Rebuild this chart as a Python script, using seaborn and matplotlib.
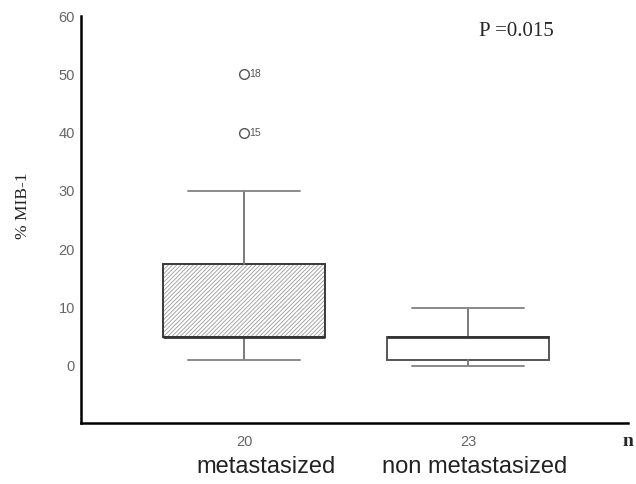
import matplotlib
matplotlib.use("Agg")
import matplotlib.pyplot as plt
import matplotlib.transforms as mtransforms
import matplotlib.colors as mcolors
import seaborn as sns

# ---- data ----
groups = ["metastasized", "non metastasized"]
n_labels = ["20", "23"]
q1 = [5.0, 1.0]
median = [5.0, 5.0]
q3 = [17.5, 5.0]
whisker_low = [1.0, 0.0]
whisker_high = [30.0, 10.0]
outliers = [[40.0, 50.0], []]
outlier_ids = [["15", "18"], []]
p_text = "P =0.015"

sns.set_style("white")
plt.rcParams["font.family"] = ["Liberation Sans", "DejaVu Sans"]
plt.rcParams["hatch.linewidth"] = 0.6
plt.rcParams["hatch.color"] = "#9a9a9a"

fig = plt.figure(figsize=(6.36, 4.84), dpi=100)
ax = fig.add_axes([81 / 636, 1 - 423 / 484, (628 - 81) / 636, (423 - 16) / 484])

stats = []
for i in range(len(groups)):
    stats.append(dict(med=median[i], q1=q1[i], q3=q3[i],
                      whislo=whisker_low[i], whishi=whisker_high[i],
                      fliers=outliers[i], label=groups[i]))

positions = [1, 2]
bp = ax.bxp(stats, positions=positions, widths=0.72, patch_artist=True,
            showfliers=True,
            boxprops=dict(edgecolor="#3a3a3a", linewidth=1.4),
            whiskerprops=dict(color="#7a7a7a", linewidth=1.4),
            capprops=dict(color="#8a8a8a", linewidth=1.4),
            medianprops=dict(color="#333333", linewidth=2.0),
            flierprops=dict(marker="o", markersize=7, markerfacecolor="white",
                            markeredgecolor="#555555", markeredgewidth=1.0),
            capwidths=0.5)

box0 = bp["boxes"][0]
box0.set_facecolor("white")
box0.set_hatch("////////")
if hasattr(box0, "set_hatchcolor"):
    box0.set_hatchcolor("#9a9a9a")
else:
    box0._hatch_color = mcolors.to_rgba("#9a9a9a")
bp["boxes"][1].set_facecolor("white")
bp["boxes"][1].set_edgecolor("#555555")

# outlier labels
for i, (vals, ids) in enumerate(zip(outliers, outlier_ids)):
    for v, t in zip(vals, ids):
        ax.annotate(t, (positions[i], v), xytext=(4, 0), textcoords="offset points",
                    fontsize=7.5, color="#555555", va="center", ha="left")

ax.set_xlim(0.272, 2.714)
ax.set_ylim(-9.8, 60)
yt = [0, 10, 20, 30, 40, 50, 60]
ax.set_yticks(yt)
ax.set_yticklabels([str(v) for v in yt], color="#666666", fontsize=10.5)
ax.set_xticks(positions)
ax.set_xticklabels(n_labels, color="#666666", fontsize=10.5)
ax.tick_params(axis="both", direction="inout", length=5, width=1.2, color="black")
ax.tick_params(axis="x", pad=6)
ax.tick_params(axis="y", pad=2)

for s in ["top", "right"]:
    ax.spines[s].set_visible(False)
for s in ["left", "bottom"]:
    ax.spines[s].set_linewidth(1.8)
    ax.spines[s].set_color("black")

ax.set_ylabel("% MIB-1", family=["Liberation Serif"], fontsize=12.5)
ax.yaxis.set_label_coords((31 - 81) / 547, (423 - 206) / 407)

trans = mtransforms.blended_transform_factory(ax.transData, fig.transFigure)
label_shift_px = [22, 7]
for i, g in enumerate(groups):
    t = trans + mtransforms.ScaledTranslation(label_shift_px[i] / 100, 0, fig.dpi_scale_trans)
    ax.text(positions[i], 1 - 467 / 484, g, transform=t, ha="center", va="center",
            fontsize=17, color="#222222")

ax.text(628 / 636, 1 - 441 / 484, "n", transform=fig.transFigure, ha="center", va="center",
        family=["Liberation Serif"], fontsize=14, fontweight="bold")
ax.text(516 / 636, 1 - 31 / 484, p_text, transform=fig.transFigure, ha="center", va="center",
        family=["Liberation Serif"], fontsize=15)

fig.savefig("out.png", dpi=100)
